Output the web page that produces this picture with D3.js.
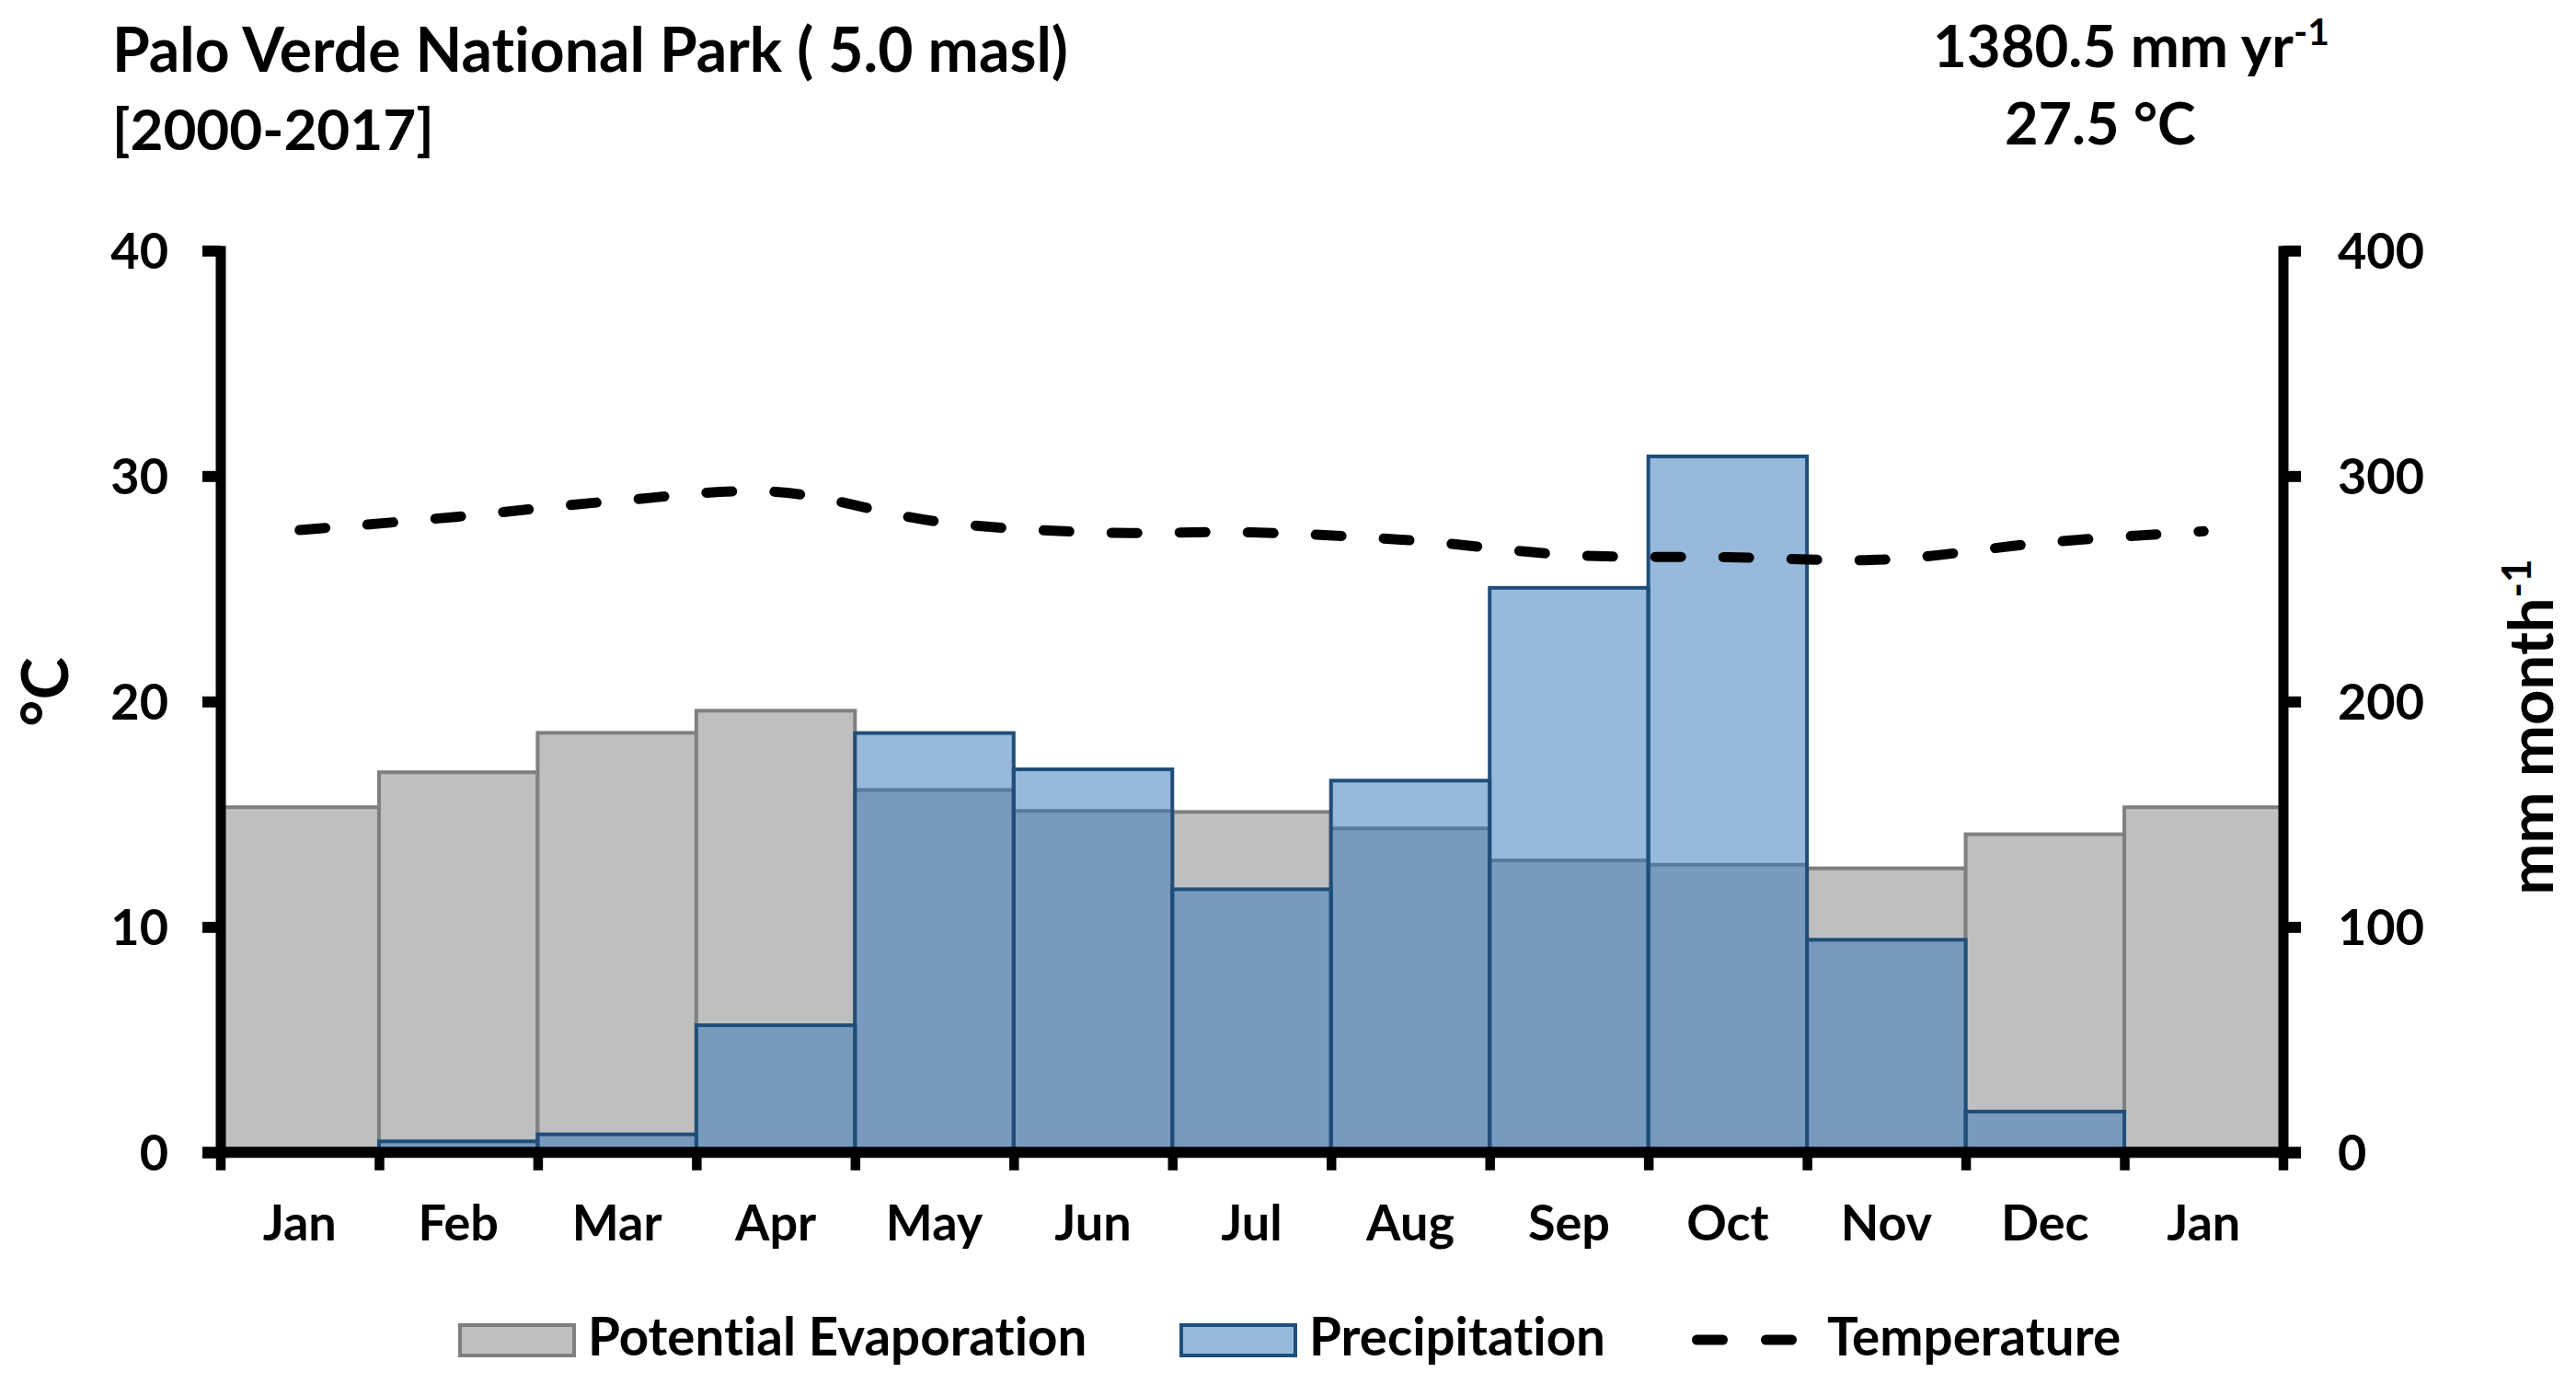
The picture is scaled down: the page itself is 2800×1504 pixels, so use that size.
<!DOCTYPE html>
<html><head><meta charset="utf-8">
<script src="https://cdn.jsdelivr.net/npm/d3@7"></script>
<style>
html,body{margin:0;padding:0;background:#fff;}
svg text{font-family:Lato,"Open Sans",sans-serif;font-weight:700;fill:#000;font-variant-ligatures:none;font-feature-settings:"liga" 0,"clig" 0;}
</style></head><body>
<svg id="chart" width="2800" height="1504"></svg>
<script>
// ---------- data ----------
const months = ["Jan","Feb","Mar","Apr","May","Jun","Jul","Aug","Sep","Oct","Nov","Dec","Jan"];
const potentialEvaporation = [153.1,168.6,186.1,195.9,160.7,151.4,151.0,143.7,129.5,127.6,126.0,141.1,153.1];
const precipitation = [1.5,4.9,8.0,56.4,186.0,169.9,116.7,164.9,250.4,308.7,94.3,18.1,1.5];
const temperature = [27.6,28.2,28.9,29.3,28.0,27.5,27.5,27.15,26.5,26.4,26.3,27.05,27.55];
const tempTicks = [0,10,20,30,40];
const precTicks = [0,100,200,300,400];
const titleLines = ["Palo Verde National Park ( 5.0 masl)","[2000-2017]"];
const annualPrecipText = "1380.5 mm yr";
const meanTempText = "27.5 °C";
const legendItems = ["Potential Evaporation","Precipitation","Temperature"];

// ---------- layout ----------
const svg = d3.select("#chart");
const x0 = 239.5, x1 = 2481.5, yBottom = 1252.3, yTop = 272.3;
const xBand = d3.scaleBand().domain(d3.range(months.length)).range([x0,x1]).padding(0);
const xEdge = d3.scaleLinear().domain([0,months.length]).range([x0,x1]);
const yT = d3.scaleLinear().domain([0,40]).range([yBottom,yTop]);
const yP = d3.scaleLinear().domain([0,400]).range([yBottom,yTop]);
const bw = xBand.bandwidth();

const C = {grayFill:"#bfbfbf",grayStroke:"#7f7f7f",blueFill:"#97b9db",blueStroke:"#1f4e79",overlap:"#789abd",petLine:"#587a9b"};

const pd = precipitation.map((p,i)=>({i,p,e:potentialEvaporation[i]}));
const bars = svg.append("g");
bars.selectAll("rect.pet").data(potentialEvaporation).join("rect").attr("class","pet")
  .attr("x",(d,i)=>xBand(i)).attr("width",bw)
  .attr("y",d=>yP(d)).attr("height",d=>yP(0)-yP(d))
  .attr("fill",C.grayFill).attr("stroke",C.grayStroke).attr("stroke-width",4);
bars.selectAll("rect.pf").data(pd).join("rect").attr("class","pf")
  .attr("x",d=>xBand(d.i)).attr("width",bw)
  .attr("y",d=>yP(d.p)).attr("height",d=>yP(0)-yP(d.p))
  .attr("fill",C.blueFill);
bars.selectAll("rect.ov").data(pd).join("rect").attr("class","ov")
  .attr("x",d=>xBand(d.i)).attr("width",bw)
  .attr("y",d=>yP(Math.min(d.p,d.e))).attr("height",d=>yP(0)-yP(Math.min(d.p,d.e)))
  .attr("fill",C.overlap);
bars.selectAll("line.pl").data(pd.filter(d=>d.p>d.e)).join("line").attr("class","pl")
  .attr("x1",d=>xBand(d.i)).attr("x2",d=>xBand(d.i)+bw)
  .attr("y1",d=>yP(d.e)).attr("y2",d=>yP(d.e))
  .attr("stroke",C.petLine).attr("stroke-width",4);
bars.selectAll("rect.po").data(pd).join("rect").attr("class","po")
  .attr("x",d=>xBand(d.i)).attr("width",bw)
  .attr("y",d=>yP(d.p)).attr("height",d=>yP(0)-yP(d.p))
  .attr("fill","none").attr("stroke",C.blueStroke).attr("stroke-width",4);

// temperature line
const line = d3.line().x((d,i)=>xBand(i)+bw/2).y(d=>yT(d)).curve(d3.curveCardinal.tension(0));
svg.append("path").datum(temperature).attr("d",line)
  .attr("fill","none").attr("stroke","#000").attr("stroke-width",11)
  .attr("stroke-dasharray","28 46").attr("stroke-linecap","round");

// axes
function styleAxis(g){
  g.attr("font-family",null).attr("font-size",54);
  g.select(".domain").attr("stroke","#000").attr("stroke-width",11).attr("stroke-linecap","square");
  g.selectAll(".tick line").attr("stroke","#000").attr("stroke-width",12);
  g.selectAll(".tick text").attr("fill","#000");
}
const axL = svg.append("g").attr("transform",`translate(${x0},0)`)
  .call(d3.axisLeft(yT).tickValues(tempTicks).tickSize(19.5).tickSizeOuter(0).tickPadding(37));
styleAxis(axL); axL.selectAll(".tick text").attr("dy","0.36em");
const axR = svg.append("g").attr("transform",`translate(${x1},0)`)
  .call(d3.axisRight(yP).tickValues(precTicks).tickSize(19.5).tickSizeOuter(0).tickPadding(40));
styleAxis(axR); axR.selectAll(".tick text").attr("dy","0.36em");
const axB = svg.append("g").attr("transform",`translate(0,${yBottom})`)
  .call(d3.axisBottom(xEdge).tickValues(d3.range(months.length+1)).tickSize(19.5).tickSizeOuter(0).tickFormat(""));
styleAxis(axB);
axB.select(".domain").attr("d",`M${x0-19.5},0H${x1+19.5}`).attr("stroke-width",12).attr("stroke-linecap","butt");
axB.selectAll(".tick line").attr("stroke-width",10.5);
const axBL = svg.append("g").attr("transform",`translate(0,${yBottom})`)
  .call(d3.axisBottom(xBand).tickFormat(i=>months[i]).tickSize(0));
axBL.attr("font-family",null).attr("font-size",54);
axBL.select(".domain").remove();
axBL.selectAll(".tick text").attr("y",95.7).attr("dy",null);

// axis titles
svg.append("text").attr("transform","translate(74,752) rotate(-90)").attr("text-anchor","middle")
  .attr("font-size",70).text("°C");
const yr = svg.append("text").attr("transform","translate(2775,790) rotate(-90)").attr("text-anchor","middle")
  .attr("font-size",67);
yr.append("tspan").text("mm month");
yr.append("tspan").attr("dy",-24).attr("font-size",44).text("-1");

// titles
const titleSizes = [66,62];
svg.selectAll("text.title").data(titleLines).join("text").attr("class","title")
  .attr("x",122).attr("y",(d,i)=>78+i*85).attr("font-size",(d,i)=>titleSizes[i]).text(d=>d);
const t1 = svg.append("text").attr("x",2101).attr("y",73).attr("font-size",63.5);
t1.append("tspan").text(annualPrecipText);
t1.append("tspan").attr("dy",-24).attr("font-size",41).text("-1");
svg.append("text").attr("x",2179).attr("y",157).attr("font-size",63).text(meanTempText);

// legend
const lg = svg.append("g");
const sw = [{x:500,fill:C.grayFill,stroke:C.grayStroke},{x:1284,fill:C.blueFill,stroke:C.blueStroke}];
lg.selectAll("rect").data(sw).join("rect").attr("x",d=>d.x).attr("y",1440).attr("width",124).attr("height",33)
  .attr("fill",d=>d.fill).attr("stroke",d=>d.stroke).attr("stroke-width",4);
lg.append("path").attr("d","M1844.5,1456H1950").attr("stroke","#000").attr("stroke-width",11)
  .attr("stroke-dasharray","28 47").attr("stroke-linecap","round");
const lx = [639,1423,1986];
lg.selectAll("text").data(legendItems).join("text").attr("x",(d,i)=>lx[i]).attr("y",1473)
  .attr("font-size",56.5).text(d=>d);
</script>
</body></html>
